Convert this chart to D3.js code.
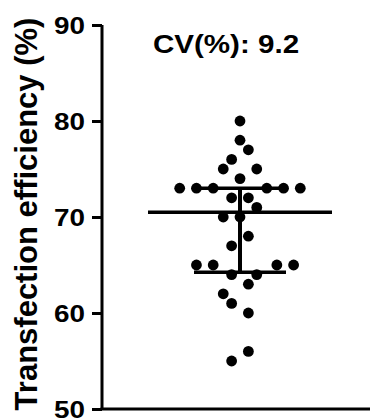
<!DOCTYPE html>
<html>
<head>
<meta charset="utf-8">
<script src="https://d3js.org/d3.v7.min.js"></script>
<style>
  html, body { margin: 0; padding: 0; background: #fff; }
  svg { display: block; }
  text { font-family: "Liberation Sans", Arial, sans-serif; font-weight: bold; fill: #000; }
</style>
</head>
<body>
<svg id="chart" width="370" height="418"></svg>
<script>
// transfection efficiency (%) per replicate
const values = [80, 78, 77, 76, 75, 75, 74,
  73, 73, 73, 73, 73, 73, 72, 72, 71, 70, 70, 68, 67,
  65, 65, 65, 65, 64, 64, 63, 62, 61, 60, 56, 55];
// horizontal scatter slot of each point (same order as values)
const jitter = [0, 0, 1, -1, -2, 2, 0,
  -7.2, -5.2, -3.2, 3.2, 5.2, 7.2, -1, 1, 2, -2, 0, 1, -1,
  -5.2, -3.2, 4.4, 6.4, -1, 2, 1, -2, -1, 1, 1, -1];
const yTicks = [50, 60, 70, 80, 90];
const yTitle = "Transfection efficiency (%)";

const svg = d3.select("#chart");

const y = d3.scaleLinear().domain([50, 90]).range([409, 25]);
const x = d3.scaleLinear().domain([-16, 16]).range([106, 374]);

// prism style quartiles: position (n+1)p
function quart(sorted, p) {
  const pos = (sorted.length + 1) * p;
  const lo = Math.floor(pos), f = pos - lo;
  const a = sorted[lo - 1], b = sorted[Math.min(lo, sorted.length - 1)];
  return a + f * (b - a);
}
const sorted = values.slice().sort(d3.ascending);
const med = d3.median(values);
const q1 = quart(sorted, 0.25);
const q3 = quart(sorted, 0.75);
const cv = d3.deviation(values) / d3.mean(values) * 100;

// y axis
const yAxis = svg.append("g")
  .attr("transform", "translate(102,0)")
  .call(d3.axisLeft(y).tickValues(yTicks).tickSize(10).tickPadding(7).tickFormat(d3.format("d")));
yAxis.select(".domain").attr("stroke", "#000").attr("stroke-width", 3)
  .attr("d", `M0,${y(90)}V${y(50)}`);
yAxis.selectAll(".tick line").attr("stroke", "#000").attr("stroke-width", 3);
yAxis.selectAll(".tick text")
  .style("font-size", "24px")
  .attr("dy", null)
  .attr("dominant-baseline", "central")
  .attr("transform", "scale(1.16,1)")
  .attr("x", -17 / 1.16);

// x baseline
svg.append("line")
  .attr("x1", 100.5).attr("x2", 372)
  .attr("y1", y(50)).attr("y2", y(50))
  .attr("stroke", "#000").attr("stroke-width", 3);

// points
svg.append("g").selectAll("circle")
  .data(values)
  .join("circle")
  .attr("cx", (d, i) => x(jitter[i]))
  .attr("cy", d => y(d))
  .attr("r", 5.4)
  .attr("fill", "#000");

// median + interquartile range
const cx = x(0);
const g = svg.append("g").attr("stroke", "#000");
g.append("line").attr("x1", cx - 92).attr("x2", cx + 92)
  .attr("y1", y(med)).attr("y2", y(med)).attr("stroke-width", 3.6);
g.append("line").attr("x1", cx).attr("x2", cx)
  .attr("y1", y(q3)).attr("y2", y(q1)).attr("stroke-width", 4);
[q1, q3].forEach(q => {
  g.append("line").attr("x1", cx - 46).attr("x2", cx + 46)
    .attr("y1", y(q)).attr("y2", y(q)).attr("stroke-width", 3.6);
});

// CV label
svg.append("text")
  .attr("transform", "translate(226,53) scale(1.16,1)")
  .attr("text-anchor", "middle")
  .style("font-size", "25.5px")
  .text("CV(%): " + cv.toFixed(1));

// y title
svg.append("text")
  .attr("transform", "translate(37,214) rotate(-90)")
  .attr("text-anchor", "middle")
  .style("font-size", "31px")
  .text(yTitle);
</script>
</body>
</html>
